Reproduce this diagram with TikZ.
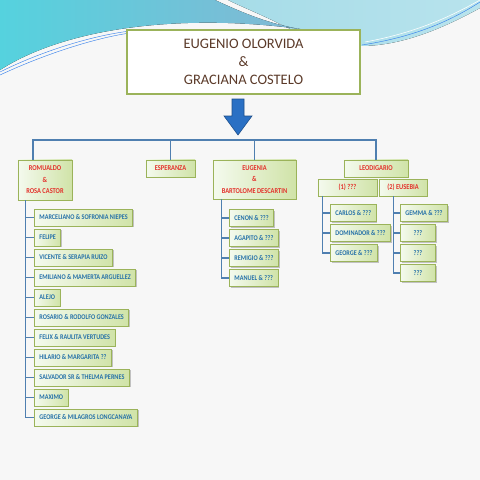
\documentclass[tikz,border=0pt]{standalone}
\usepackage{fontspec}
\setmainfont{Carlito}
\newfontfamily\boxfont[FakeStretch=0.86]{Carlito}
\usetikzlibrary{shadows}
\definecolor{linkblue}{HTML}{4F7FB0}
\definecolor{boxolive}{HTML}{9BB35A}
\definecolor{boxgreen}{HTML}{D0E3A8}
\definecolor{boxwhite}{HTML}{F4FAEE}
\definecolor{kidred}{HTML}{E3302A}
\definecolor{gkidblue}{HTML}{2470A8}
\definecolor{topbrown}{HTML}{5B3A29}
\definecolor{arrowblue}{HTML}{2A70C4}
\definecolor{wavecyan}{HTML}{55D2DE}
\definecolor{waveblue}{HTML}{82B8D4}
\definecolor{wavelight}{HTML}{A6DCE8}

\begin{document}
\begin{tikzpicture}[x=0.025cm,y=-0.025cm,
    link/.style={draw=linkblue, line width=0.8pt},
    couplebox/.style={draw=boxolive, line width=1pt, fill=white, text=topbrown, align=center,
        font=\fontsize{10.3}{12.8}\selectfont, minimum width=5.825cm, minimum height=1.6cm},
    kidbox/.style={draw=boxolive, line width=0.6pt, left color=boxwhite, right color=boxgreen,
        drop shadow={shadow xshift=0.9pt, shadow yshift=-0.9pt, opacity=0.45},
        text=kidred, align=center, inner sep=0pt, minimum height=0.425cm,
        font=\boxfont\bfseries\fontsize{5.3}{8.2}\selectfont},
    gkidbox/.style={kidbox, text=gkidblue, anchor=west, inner xsep=0.125cm,
        font=\boxfont\bfseries\fontsize{5.1}{6}\selectfont}]
    \useasboundingbox (0,0) rectangle (480,480);
    \fill[white!97!black] (0,0) rectangle (480,480);
    \fill[left color=wavelight, right color=wavelight!80!white] (228,0) -- (480,0) -- (480,8)
        .. controls (440,30) and (400,46) .. (360,46) .. controls (330,46) and (300,34) .. (280,24)
        .. controls (260,14) and (240,6) .. (228,0) -- cycle;
    \fill[left color=wavecyan, right color=waveblue] (0,0) -- (215,0) .. controls (245,14) and (270,24) .. (300,29)
        .. controls (190,14) and (70,25) .. (0,70) -- cycle;
    \draw[wavecyan!60!blue, line width=0.3pt] (0,72) .. controls (40,52) and (90,36) .. (130,31);
    \draw[wavecyan!60!blue, line width=0.3pt] (0,75) .. controls (45,54) and (95,38) .. (130,33);
    \draw[wavecyan!60!blue, line width=0.3pt] (362,45) .. controls (420,36) and (455,18) .. (480,2);
    \draw[white, line width=0.4pt] (365,42) .. controls (420,32) and (455,14) .. (480,0);

    \node[couplebox] (couple) at (243.5,62) {EUGENIO OLORVIDA\\\&\\GRACIANA COSTELO};
    \filldraw[fill=arrowblue, draw=arrowblue!70!black, line width=0.4pt]
        (232,99) -- (244,99) -- (244,116) -- (252,116) -- (238,135) -- (224,116) -- (232,116) -- cycle;

    \node[kidbox, minimum width=1.35cm, minimum height=1cm] (romualdo) at (45,180) {ROMUALDO\\\&\\ROSA CASTOR};
    \node[kidbox, minimum width=1.225cm] (esperanza) at (170.5,168.5) {ESPERANZA};
    \node[kidbox, minimum width=2.075cm, minimum height=0.975cm] (eugenia) at (254.5,179.5) {EUGENIA\\\&\\BARTOLOME DESCARTIN};
    \node[kidbox, minimum width=1.6cm] (leodigario) at (376,168.5) {LEODIGARIO};
    \node[kidbox, minimum width=1.475cm] (wife1) at (347.5,187.5) {(1) ???};
    \node[kidbox, minimum width=1.2cm] (wife2) at (403,187.5) {(2) EUSEBIA};

    \coordinate (bus) at (0,140);
    \draw[link] ([xshift=-0.3cm]romualdo.north) -- ([xshift=-0.3cm]romualdo.north |- bus)
        -- (leodigario.north |- bus) -- (leodigario.north);
    \draw[link] (esperanza.north) -- (esperanza.north |- bus);
    \draw[link] (eugenia.north) -- (eugenia.north |- bus);

    \foreach \name [count=\i] in {MARCELIANO \& SOFRONIA NIEPES, FELIPE, VICENTE \& SERAPIA RUIZO,
        EMILIANO \& MAMERTA ARGUELLEZ, ALEJO, ROSARIO \& RODOLFO GONZALES, FELIX \& RAULITA VERTUDES,
        HILARIO \& MARGARITA ??, SALVADOR SR \& THELMA PERNES, MAXIMO, GEORGE \& MILAGROS LONGCANAYA}
    {
        \node[gkidbox] (r\i) at (34,{217.5+20*(\i-1)}) {\name};
        \draw[link] ([xshift=0.2cm]romualdo.south west) |- (r\i.west);
    }
    \foreach \name [count=\i] in {CENON \& ???, AGAPITO \& ???, REMIGIO \& ???, MANUEL \& ???}
    {
        \node[gkidbox] (e\i) at (229,{218+20*(\i-1)}) {\name};
        \draw[link] ([xshift=0.225cm]eugenia.south west) |- (e\i.west);
    }
    \foreach \name [count=\i] in {CARLOS \& ???, DOMINADOR \& ???, GEORGE \& ???}
    {
        \node[gkidbox, minimum width=1.125cm] (a\i) at (330,{213+20*(\i-1)}) {\name};
        \draw[link] ([xshift=0.125cm]wife1.south west) |- (a\i.west);
    }
    \foreach \name [count=\i] in {GEMMA \& ???, ???, ???, ???}
    {
        \node[gkidbox, minimum width=0.875cm] (b\i) at (400,{213+20*(\i-1)}) {\name};
        \draw[link] ([xshift=0.375cm]wife2.south west) |- (b\i.west);
    }
\end{tikzpicture}
\end{document}
